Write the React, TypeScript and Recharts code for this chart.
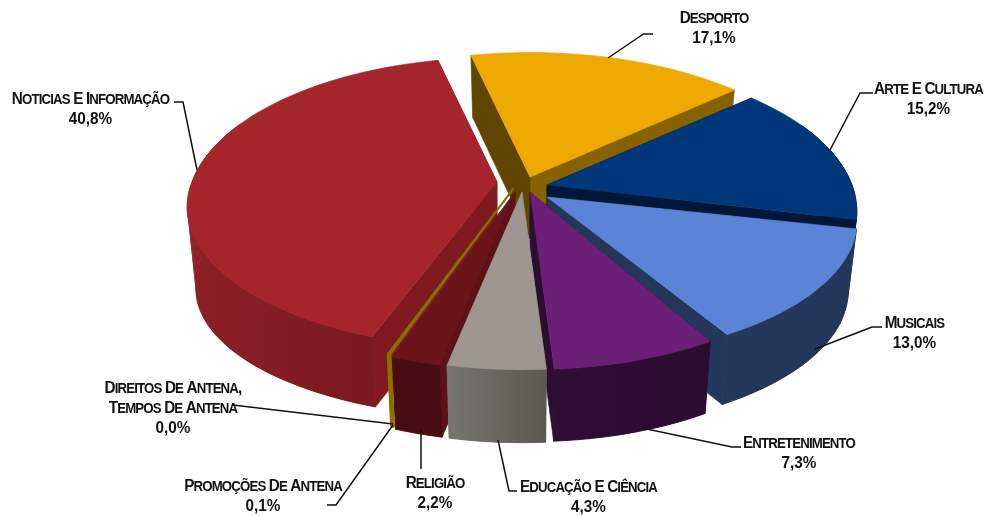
import React from "react"
import { PieChart, Pie } from "recharts"

// drawn clockwise from the left edge of the big slice
const NAMES = [
  "Noticias E Informação",
  "Desporto",
  "Arte E Cultura",
  "Musicais",
  "Entretenimento",
  "Educação E Ciência",
  "Religião",
  "Promoções De Antena",
  "Direitos De Antena, Tempos De Antena",
]
const VALUES = [40.8, 17.1, 15.2, 13.0, 7.3, 4.3, 2.2, 0.1, 0.0]

const TOP_COLORS = ["#a5252d", "#eda900", "#00377a", "#5b84d6", "#6c1f77", "#9e9690", "#691519", "#8a6e00", "#8a6e00"]
const EDGE_START = ["#7f1b20", "#5f4600", "#001737", "#22375a", "#2d0e32", "#6b6861", "#5f1216", "#8a6e00", "#8a6e00"]
const EDGE_END = ["#7f1b20", "#866300", "#001737", "#22375a", "#2d0e32", "#6b6861", "#6a1519", "#8a6e00", "#8a6e00"]
const WALL_START = ["#781a20", "#866300", "#001737", "#22375a", "#2b0d30", "#5a5850", "#470d10", "#8a6e00", "#8a6e00"]
const WALL_END = ["#8e2027", "#866300", "#001737", "#22375a", "#2e0e33", "#777570", "#470d10", "#8a6e00", "#8a6e00"]

// where each exploded slice's point sits on the page
const APEX_X = [497, 530, 547, 547, 530, 522, 515, 513, 513]
const APEX_Y = [182, 177, 185, 197, 192, 192, 192, 189, 189]
// front half of some slices is a bit flatter in the picture
const FRONT_K = [0.94, 1, 1, 0.92, 1, 1, 1, 1, 1]
const WALL_H = [71, 62, 66, 70, 72, 73, 72, 72, 72]
// lower rim: drop below the point and vertical scale
const RIM_H = [84, 62, 66, 70, 72, 73, 72, 72, 72]
const RIM_K = [0.91, 1, 1, 1, 1, 1, 1, 1, 1]

const LABEL_X = [90.5, 714, 928.5, 914.5, 799, 588.5, 435, 263, 173]
const LABEL_Y = [104, 23, 94, 328, 448, 492, 488, 491, 393]
const LEADERS = [
  "174,102 183,102 197,170",
  "653,34 643.5,34 608,58",
  "873,93 860,93 830,150",
  "882,327 872,327 815,349",
  "741,447 732,447 642,428",
  "517,491 509,491 498,440",
  "421,469 421,430",
  "327,505 336,505 393,425",
  "233,405 393,424",
]

const R = 305
const TILT = 0.48
const PERSP = 0.176

const data = NAMES.map((name, i) => ({ name, value: VALUES[i] }))

// recharts angle -> offset of a rim point from the slice's point
const rim = (i: number, angle: number) => {
  const rad = (angle * Math.PI) / 180
  const X = R * Math.cos(rad)
  const Y = -R * Math.sin(rad) // towards the viewer is positive
  const s = 1 / (1 - (PERSP * Y) / R)
  return { x: X * s, y: TILT * Y * s * (Y > 0 ? FRONT_K[i] : 1), depth: Y }
}
const abs = (i: number, p: { x: number; y: number }) => [APEX_X[i] + p.x, APEX_Y[i] + p.y]
const bottom = (i: number, p: { x: number; y: number }) => [APEX_X[i] + p.x * 0.972, APEX_Y[i] + RIM_H[i] + p.y * RIM_K[i]]
const apexBottom = (i: number) => [APEX_X[i], APEX_Y[i] + WALL_H[i]]
const pts = (list: number[][]) => list.map((p) => p[0].toFixed(1) + "," + p[1].toFixed(1)).join(" ")

const Face = ({ list, fill }: { list: number[][]; fill: string }) => (
  <polygon points={pts(list)} fill={fill} stroke={fill} strokeWidth={0.6} strokeLinejoin="round" />
)

const Slice3D = (props: any, layer: "back" | "front") => {
  const i = NAMES.indexOf(props.name ?? props.payload?.name)
  const isFront = NAMES[i] === "Educação E Ciência"
  if (isFront !== (layer === "front") || VALUES[i] === 0) return <g />
  const a0 = props.startAngle
  const a1 = props.endAngle
  const steps = Math.max(1, Math.ceil(Math.abs(a1 - a0) / 2))
  const arc = Array.from({ length: steps + 1 }, (_, k) => rim(i, a0 + ((a1 - a0) * k) / steps))
  const zero = { x: 0, y: 0 }
  const isThin = VALUES[i] < 1
  // the rim behind the top face never shows
  const seen = arc.filter((p) => p.depth > -0.45 * R)
  const wallPts = [...seen.map((p) => abs(i, p)), ...seen.slice().reverse().map((p) => bottom(i, p))]
  const wallXs = wallPts.map((p) => p[0])
  const wallFill = `url(#wall-${i})`
  return (
    <g>
      <defs>
        <linearGradient
          id={"wall-" + i}
          gradientUnits="userSpaceOnUse"
          x1={Math.max(...wallXs, 1)}
          y1="0"
          x2={Math.min(...wallXs, 9999)}
          y2="0"
        >
          <stop offset="0" stopColor={WALL_START[i]} />
          <stop offset="1" stopColor={WALL_END[i]} />
        </linearGradient>
      </defs>
      {!isThin && (
        <>
          <Face list={[abs(i, zero), abs(i, arc[steps]), bottom(i, arc[steps]), apexBottom(i)]} fill={EDGE_END[i]} />
          <Face list={[abs(i, zero), abs(i, arc[0]), bottom(i, arc[0]), apexBottom(i)]} fill={EDGE_START[i]} />
        </>
      )}
      {/* quads fill the sliver where the rim turns away at the sides */}
      {seen.slice(1).map((p, k) => (
        <polygon key={k} points={pts([abs(i, seen[k]), abs(i, p), bottom(i, p), bottom(i, seen[k])])} fill={wallFill} />
      ))}
      {seen.length > 1 && (
        <polygon
          points={pts(wallPts)}
          fill={wallFill}
          stroke={isThin ? WALL_START[i] : wallFill}
          strokeWidth={isThin ? 2.8 : 0.8}
          strokeLinejoin="round"
        />
      )}
      <polygon
        points={pts([abs(i, zero), ...arc.map((p) => abs(i, p))])}
        fill={TOP_COLORS[i]}
        stroke={TOP_COLORS[i]}
        strokeWidth={isThin ? 2 : 0.6}
        strokeLinejoin="round"
      />
    </g>
  )
}

// small caps come out too small from the font, so the lower case runs get a bigger size
const Word = ({ word }: { word: string }) => {
  const comma = word.endsWith(",")
  const body = comma ? word.slice(0, -1) : word
  return (
    <>
      <tspan fontSize={17}>{body[0]}</tspan>
      <tspan fontSize={20.3} style={{ fontVariant: "small-caps" }}>
        {body.slice(1)}
      </tspan>
      {comma && <tspan fontSize={17}>,</tspan>}
    </>
  )
}

const renderLabel = (props: any) => {
  const i = NAMES.indexOf(props.name ?? props.payload?.name)
  const lines = NAMES[i].split(/(?<=,) /)
  const pct = VALUES[i].toFixed(1).replace(".", ",") + "%"
  return (
    <text
      transform={`translate(${LABEL_X[i]},${LABEL_Y[i]}) scale(0.9,1)`}
      textAnchor="middle"
      fontFamily="'Liberation Sans', Arial, sans-serif"
      fontWeight="bold"
      fontSize={17}
      letterSpacing={-0.95}
      fill="#111"
    >
      {lines.map((t, k) => (
        <tspan key={k} x={0} dy={k === 0 ? 0 : 20}>
          {t.split(" ").map((w, n) => (
            <React.Fragment key={n}>
              {n > 0 && " "}
              <Word word={w} />
            </React.Fragment>
          ))}
        </tspan>
      ))}
      <tspan x={0} dy={20} letterSpacing={0}>
        {pct}
      </tspan>
    </text>
  )
}

const renderLeader = (props: any) => {
  const i = NAMES.indexOf(props.name ?? props.payload?.name)
  return <polyline points={LEADERS[i]} fill="none" stroke="#111" strokeWidth={1.5} />
}

export default function App() {
  const angles = { startAngle: -110, endAngle: -470, cx: 520, cy: 200, outerRadius: 200, dataKey: "value", nameKey: "name" }
  const back = (p: any) => Slice3D(p, "back")
  const front = (p: any) => Slice3D(p, "front")
  return (
    <div style={{ position: "absolute", left: 0, top: 0, width: 989, height: 516, background: "#fff", filter: "blur(0.35px)" }}>
      <PieChart width={989} height={516} margin={{ top: 0, right: 0, bottom: 0, left: 0 }}>
        <Pie data={data} {...angles} shape={back} inactiveShape={back} label={false} labelLine={false} isAnimationActive={false} />
        <Pie data={data} {...angles} shape={front} inactiveShape={front} label={renderLabel} labelLine={renderLeader} isAnimationActive={false} />
      </PieChart>
    </div>
  )
}
